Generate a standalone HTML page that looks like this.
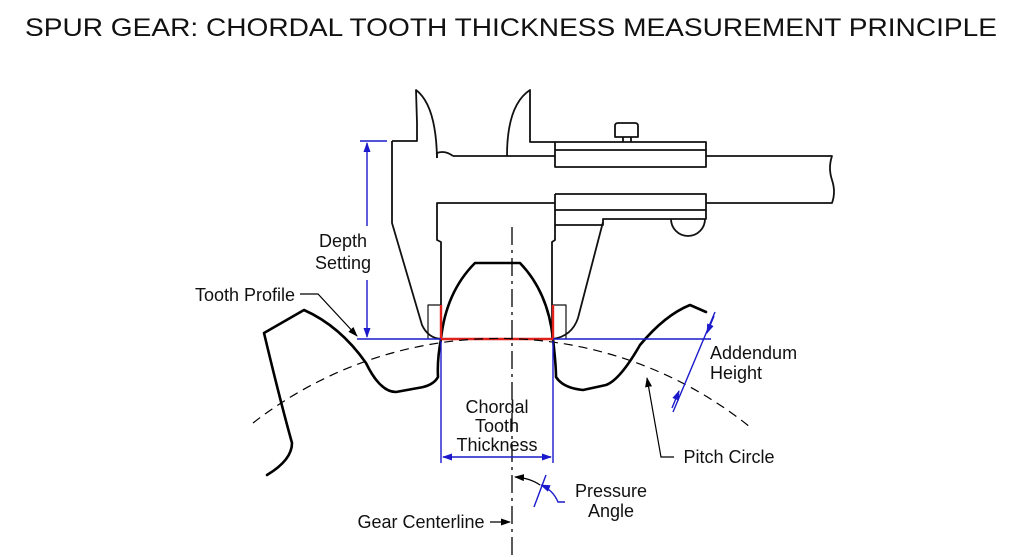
<!DOCTYPE html>
<html><head><meta charset="utf-8"><style>
html,body{margin:0;padding:0;background:#fff;}
svg{display:block;font-family:"Liberation Sans",Arial,sans-serif;}
</style></head><body>
<svg width="1024" height="559" viewBox="0 0 1024 559" xmlns="http://www.w3.org/2000/svg">
<defs>
<marker id="ab" viewBox="0 0 10 10" refX="9" refY="5" markerWidth="10" markerHeight="10" orient="auto-start-reverse" markerUnits="userSpaceOnUse"><path d="M0,1.5 L10,5 L0,8.5z" fill="#1a1acc"/></marker>
<marker id="ak" viewBox="0 0 10 10" refX="9" refY="5" markerWidth="10" markerHeight="10" orient="auto-start-reverse" markerUnits="userSpaceOnUse"><path d="M0,1.5 L10,5 L0,8.5z" fill="#000"/></marker>
</defs>
<rect width="1024" height="559" fill="#fff"/>
<text x="25" y="36" font-size="25" textLength="972" lengthAdjust="spacingAndGlyphs" fill="#111">SPUR GEAR: CHORDAL TOOTH THICKNESS MEASUREMENT PRINCIPLE</text>

<g fill="none" stroke="#111" stroke-width="1.8" stroke-linejoin="round">
<path d="M453,156 L555,156 M706,156 L832,156 Q828,168 832,180 Q836,192 832,203 L706,203 M555,203 L453,203"/>
<rect x="555" y="142" width="151" height="25"/>
<line x1="555" y1="150" x2="706" y2="150"/>
<path d="M615,137 L615,126 Q615,123 618,123 L635,123 Q638,123 638,126 L638,137 Z M623,137 L623,142 M631,137 L631,142"/>
<path d="M555,194 L706,194 L706,219 L603,219 L603,225 L555,225 M555,210 L706,210 M555,194 L555,240 L552,242 L552,339"/>
<path d="M671,219 A17,17 0 0 0 705,219"/>
<path d="M603,222 L578,318 Q572,336 553,339"/>
<path d="M437,158 L437,153 Q445,150 453,156"/>
<path d="M392,141 L417,141 L417,123 L416,90 Q436,105 437,158"/>
<path d="M392,141 L392,223 L422,325 Q428,338 441,339"/>
<path d="M453,203 L437,203 L437,240 L441,242 L441,339"/>
<path d="M507,156 Q507,105 530,90 L530,142 L555,142"/>
<path d="M441,305 L428,305 L428,339 M553,305 L566,305 L566,339" stroke-width="1.2"/>
</g>

<g fill="none" stroke="#000" stroke-width="2.6" stroke-linejoin="round" stroke-linecap="round">
<path d="M441,339 Q446,292 475,263 L520,263 Q548,292 553,339"/>
<path d="M441,339 Q437,360 438,377 Q433,386 418,388 L396,392 Q380,392 366,363 Q340,326 304,310 L264,333 Q280,400 292,443 Q292,460 267,475"/>
<path d="M553,339 Q556,365 556,377 Q563,388 583,390 L606,385 Q620,380 640,345 Q665,315 690,305 L706,312"/>
</g>
<g stroke="#e0201a" stroke-width="2.4" fill="none">
<path d="M441,305 L441,339 L553,339 L553,305"/>
</g>
<path d="M253,423 A400,400 0 0 1 750,427" fill="none" stroke="#000" stroke-width="1.2" stroke-dasharray="9,6"/>
<line x1="512" y1="227" x2="512" y2="556" stroke="#000" stroke-width="1.3" stroke-dasharray="18,5,3,5"/>

<g stroke="#1a1acc" stroke-width="1.4" fill="none">
<line x1="357" y1="339" x2="441" y2="339"/>
<line x1="553" y1="339" x2="711" y2="339"/>
<line x1="360" y1="141" x2="387" y2="141"/>
<line x1="367" y1="143" x2="367" y2="226" marker-start="url(#ab)"/>
<line x1="367" y1="280" x2="367" y2="337" marker-end="url(#ab)"/>
<line x1="441" y1="341" x2="441" y2="463"/>
<line x1="553" y1="341" x2="553" y2="463"/>
<line x1="443" y1="457" x2="551" y2="457" marker-start="url(#ab)" marker-end="url(#ab)"/>
<line x1="715" y1="312" x2="673" y2="412"/>
<line x1="714" y1="316" x2="707" y2="333" marker-end="url(#ab)"/>
<line x1="672" y1="408" x2="679" y2="391" marker-end="url(#ab)"/>
<line x1="534" y1="507" x2="546" y2="475"/>
<path d="M565,502 L558,502 Q553,490 541,485" marker-end="url(#ab)"/>
</g>
<g stroke="#000" stroke-width="1.2" fill="none">
<path d="M300,294 L318,294 L357,336" marker-end="url(#ak)"/>
<path d="M540,485 Q530,478 515,477" marker-end="url(#ak)"/>
<path d="M674,457 L661,457 L647,378" marker-end="url(#ak)"/>
<line x1="490" y1="522" x2="510" y2="522" marker-end="url(#ak)"/>
</g>

<g font-size="18" fill="#111" text-anchor="middle">
<text x="343" y="247">Depth</text>
<text x="343" y="269">Setting</text>
<text x="245" y="301">Tooth Profile</text>
<text x="497" y="413">Chordal</text>
<text x="497" y="432">Tooth</text>
<text x="497" y="451">Thickness</text>
<text x="611" y="497">Pressure</text>
<text x="611" y="517">Angle</text>
<text x="421" y="528">Gear Centerline</text>
<text x="729" y="463">Pitch Circle</text>
</g>
<g font-size="18" fill="#111">
<text x="710" y="359">Addendum</text>
<text x="710" y="379">Height</text>
</g>
</svg>
</body></html>
